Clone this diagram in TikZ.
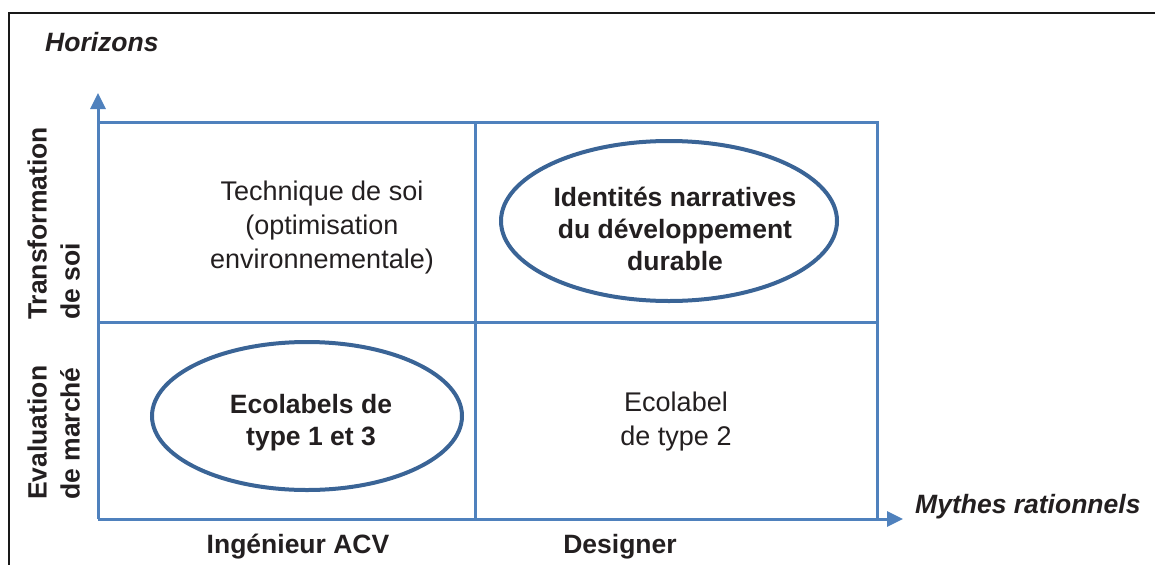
\documentclass[tikz,border=0pt]{standalone}
\usepackage{fontspec}
\setmainfont{Liberation Sans}
\usetikzlibrary{arrows.meta,shapes.geometric}
\definecolor{gridblue}{HTML}{4F81BD}
\definecolor{ellblue}{HTML}{3A6496}
\definecolor{txt}{HTML}{231F20}
\tikzset{
  gridline/.style={draw=gridblue,line width=3pt},
  axisline/.style={draw=gridblue,line width=3pt,-{Triangle[length=16pt,width=15pt]}},
  celltext/.style={text=txt,align=center,font=\fontsize{27}{34}\selectfont,inner sep=0pt},
  boldtext/.style={text=txt,align=center,font=\fontsize{26.5}{32}\selectfont\bfseries,inner sep=0pt},
  axislabel/.style={text=txt,font=\fontsize{26.5}{32}\selectfont\bfseries\itshape,inner sep=0pt},
  sidelabel/.style={text=txt,align=left,font=\fontsize{26.5}{33}\selectfont\bfseries,inner sep=0pt,rotate=90},
  oval/.style={draw=ellblue,line width=4pt},
  frameline/.style={draw=black!90,line width=2pt}
}
\begin{document}
\begin{tikzpicture}[x=1pt,y=-1pt]
\useasboundingbox (0,0) rectangle (1155,565);
% frame
\coordinate (fTL) at (9,13);
\coordinate (fTR) at (1155,13);
\coordinate (fBL) at (9,565);
\draw[frameline] (fTR) -- (fTL) -- (fBL);
% grid
\coordinate (o) at (98,519);
\coordinate (ytip) at (98,93);
\coordinate (xtip) at (903,519);
\draw[gridline] (98,122) -- (877,122) -- (877,519);
\draw[gridline] (98,322) -- (877,322);
\draw[gridline] (475,122) -- (475,519);
\draw[axisline] (o) -- (ytip);
\draw[axisline] (o) -- (xtip);
% ellipses
\draw[oval] (669,221) ellipse [x radius=168, y radius=80];
\draw[oval] (307,416) ellipse [x radius=155, y radius=74];
% cell texts
\node[celltext] (tech) at (322,228) {Technique de soi\\(optimisation\\environnementale)};
\node[boldtext] (ident) at (675,229) {Identités narratives\\du développement\\durable};
\node[boldtext] (eco13) at (311,423) {Ecolabels de\\type 1 et 3};
\node[celltext] (eco2) at (676,422) {Ecolabel\\de type 2};
% axis labels
\node[axislabel,anchor=west] (hor) at (45,42) {Horizons};
\node[axislabel,anchor=west] (myth) at (915,507) {Mythes rationnels};
\node[boldtext] (ing) at (298,547) {Ingénieur ACV};
\node[boldtext] (des) at (620,547) {Designer};
\node[sidelabel,anchor=south west] (trans) at (80,320) {Transformation\\de soi};
\node[sidelabel,anchor=south west] (eval) at (80,500) {Evaluation\\de marché};
\end{tikzpicture}
\end{document}
